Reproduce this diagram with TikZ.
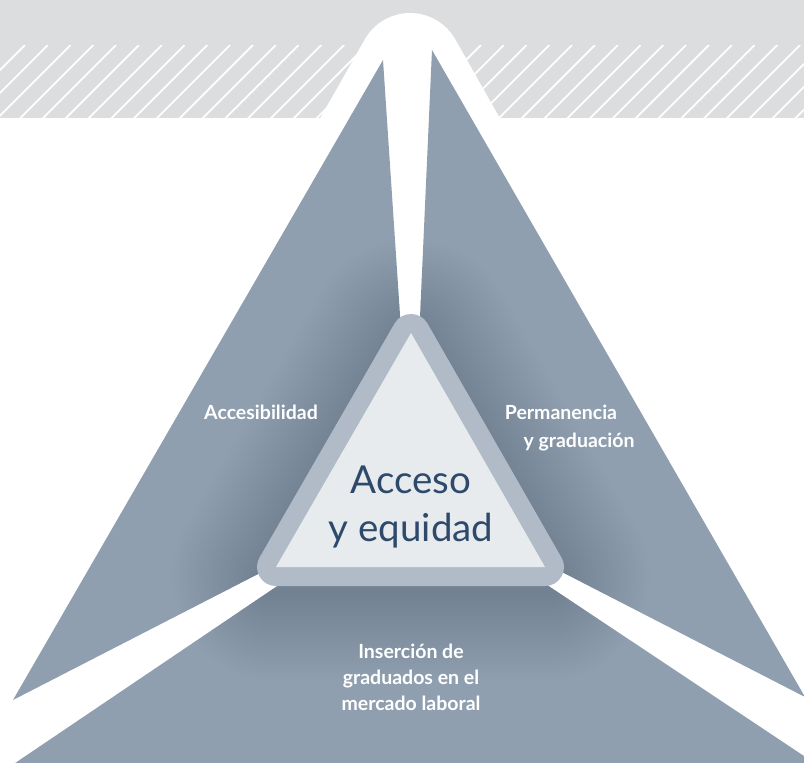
\documentclass[tikz,border=0pt]{standalone}
\usepackage{fontspec}
\setmainfont{Lato}
\definecolor{bandc}{HTML}{DCDDDF}
\definecolor{wedgec}{HTML}{8F9FB0}
\definecolor{bordc}{HTML}{B1BBC7}
\definecolor{innerc}{HTML}{E8EBEE}
\definecolor{titlec}{HTML}{2E4A6B}
\definecolor{shadowc}{HTML}{3A4858}
\begin{document}
\begin{tikzpicture}[x=1pt,y=-1pt,
  wedge/.style={fill=wedgec},
  lbl/.style={text=white,font=\bfseries\fontsize{19.5}{26}\selectfont,inner sep=0pt,anchor=base},
  title/.style={text=titlec,font=\fontsize{38.5}{48}\selectfont,inner sep=0pt,anchor=base},
  hatch/.style={white,line width=1.8pt},
  shade/.style={shadowc,opacity=0.009,line join=round}]
\useasboundingbox (0,0) rectangle (804,763);
% top band
\fill[bandc] (0,0) rectangle (804,118);
\begin{scope}
  \clip (0,45) rectangle (804,118);
  \foreach \k in {0,...,38} \draw[hatch] ({25+22.8*\k},45) -- ++(-80,80);
\end{scope}
% white arch
\fill[white] (318,122) -- (365,39) arc[start angle=150,end angle=30,radius=52pt] -- (502,122) -- cycle;
% wedges
\coordinate (C) at (412,495);
\coordinate (L1) at (383,60);
\coordinate (L2) at (13,700);
\coordinate (R1) at (432,50);
\coordinate (R2) at (805,697);
\coordinate (B1) at (-10,780);
\coordinate (B2) at (840,780);
\fill[wedge] (L1) -- (L2) -- (C) -- cycle;
\fill[wedge] (R1) -- (R2) -- (C) -- cycle;
\fill[wedge] (C) -- (B1) -- (B2) -- cycle;
% soft shadow around centre
\begin{scope}
  \clip (L1) -- (L2) -- (C) -- cycle (R1) -- (R2) -- (C) -- cycle (C) -- (B1) -- (B2) -- cycle;
  \foreach \w in {40,46,...,210}
    \draw[shade,line width=\w pt,shift={(0,10)}] (411,333) -- (276,567) -- (545,567) -- cycle;
\end{scope}
% central triangle
\coordinate (T1) at (411,333);
\coordinate (T2) at (276,567);
\coordinate (T3) at (545,567);
\draw[bordc,fill=bordc,line width=38pt,line join=round] (T1) -- (T2) -- (T3) -- cycle;
\fill[innerc] (T1) -- (T2) -- (T3) -- cycle;
% texts
\node[title] (t1) at (411,493) {Acceso};
\node[title] (t2) at (411,541) {y equidad};
\node[lbl] (acc) at (261,419) {Accesibilidad};
\node[lbl] (per1) at (561,419) {Permanencia};
\node[lbl] (per2) at (579,447) {y graduación};
\node[lbl] (ins1) at (411,658) {Inserción de};
\node[lbl] (ins2) at (411,684) {graduados en el};
\node[lbl] (ins3) at (411,710) {mercado laboral};
\end{tikzpicture}
\end{document}
